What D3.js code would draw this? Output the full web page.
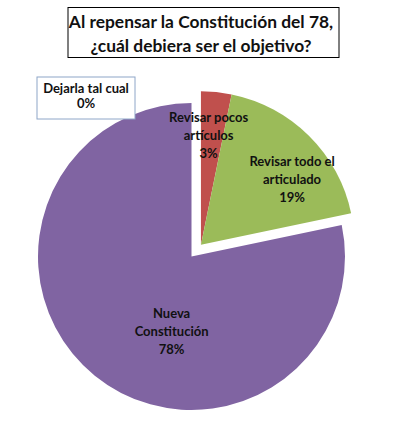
<!DOCTYPE html>
<meta charset="utf-8">
<title>Constitución del 78</title>
<style>
  body { margin: 0; background: white; }
  svg { font-family: Lato, "Open Sans", sans-serif; }
  .lbl { font-weight: bold; fill: #111; }
</style>
<body>
<div id="chart"></div>
<script src="https://d3js.org/d3.v7.min.js"></script>
<script>
// data
const categories = ["Dejarla tal cual", "Revisar pocos artículos", "Revisar todo el articulado", "Nueva Constitución"];
const values = [0, 3.2, 18.5, 78.3];
const shown = ["0%", "3%", "19%", "78%"];
const labelLines = [["Dejarla tal cual", "0%"], ["Revisar pocos", "artículos", "3%"], ["Revisar todo el", "articulado", "19%"], ["Nueva", "Constitución", "78%"]];
const colors = ["#4F81BD", "#C0504D", "#9BBB59", "#8064A2"];
const titleLines = ["Al repensar la Constitución del 78,", "¿cuál debiera ser el objetivo?"];

const width = 397, height = 421;
const cx = 191.5, cy = 256.5, r = 153.5;

const svg = d3.select("#chart").append("svg")
    .attr("width", width)
    .attr("height", height);

// title box
svg.append("rect")
    .attr("x", 68).attr("y", 7.5)
    .attr("width", 271).attr("height", 50)
    .attr("fill", "white").attr("stroke", "black").attr("stroke-width", 1);

const title = svg.append("text")
    .attr("class", "lbl")
    .attr("text-anchor", "middle")
    .style("font-size", "17.4px");
title.selectAll("tspan").data(titleLines).enter().append("tspan")
    .attr("x", 201)
    .attr("y", function(d, i) { return 28 + i * 24; })
    .text(function(d) { return d; });

// pie
const pie = d3.pie().sort(null).value(function(d) { return d; });
const arcs = pie(values);
const arc = d3.arc().innerRadius(0).outerRadius(r);

// slices 1 and 2 pulled out together (like Excel explosion)
const explode = [0, 15, 15, 0];
const pullAngle = (arcs[1].startAngle + arcs[2].endAngle) / 2;

const g = svg.append("g").attr("transform", "translate(" + cx + "," + cy + ")");

g.selectAll("path.slice")
  .data(arcs)
  .enter().append("path")
    .attr("class", "slice")
    .attr("d", arc)
    .attr("fill", function(d, i) { return colors[i]; })
    .attr("transform", function(d, i) {
      return "translate(" + (Math.sin(pullAngle) * explode[i]) + "," + (-Math.cos(pullAngle) * explode[i]) + ")";
    });

// labels: at a label radius along a tuned angle, like Excel's best fit
const labelPos = [null, [0.07, 110], [0.95, 112], [3.4, 78]]; // [angle rad, radius]
const lineH = [0, 18, 18, 18];

arcs.forEach(function(d, i) {
  if (i === 0) return;
  const lp = labelPos[i];
  const ox = Math.sin(pullAngle) * explode[i], oy = -Math.cos(pullAngle) * explode[i];
  const x = ox + Math.sin(lp[0]) * lp[1];
  const y = oy - Math.cos(lp[0]) * lp[1];
  const lines = labelLines[i];
  const t = g.append("text").attr("class", "lbl").attr("text-anchor", "middle")
    .style("font-size", "13px");
  t.selectAll("tspan").data(lines).enter().append("tspan")
    .attr("x", x)
    .attr("y", function(s, k) { return y + (k - (lines.length - 1) / 2) * lineH[i] + 4.5; })
    .text(function(s) { return s; });
});

// zero slice label in its own box
svg.append("rect")
    .attr("x", 37).attr("y", 77)
    .attr("width", 98).attr("height", 42)
    .attr("fill", "white").attr("stroke", "#8ea6c8").attr("stroke-width", 1);
const z = svg.append("text").attr("class", "lbl").attr("text-anchor", "middle").style("font-size", "13px");
z.selectAll("tspan").data(labelLines[0]).enter().append("tspan")
    .attr("x", 86)
    .attr("y", function(s, k) { return 93 + k * 15; })
    .text(function(s) { return s; });
</script>
</body>
